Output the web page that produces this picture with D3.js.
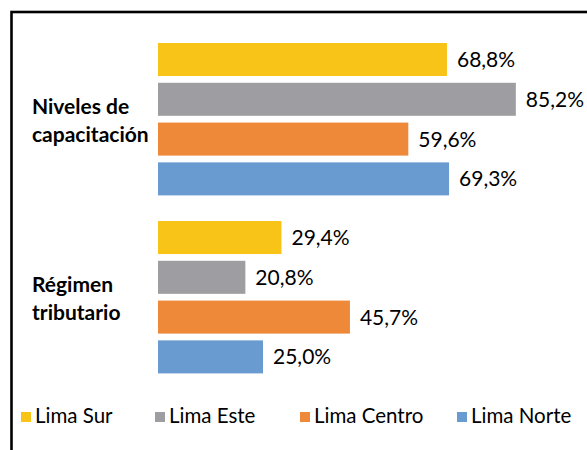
<!DOCTYPE html>
<html>

<head>
    <meta charset="utf-8">
    <title>Niveles de capacitación y régimen tributario</title>
    <script type="text/javascript" src="https://d3js.org/d3.v7.min.js"></script>
    <style>
        body {
            margin: 0;
            background: #fff;
        }
        svg {
            display: block;
            font-family: Lato, "Open Sans", sans-serif;
        }
    </style>
</head>

<body>
</body>

<script type="text/javascript">
    var w = 587;
    var h = 450;

    // categories (each label split in two lines) and series
    var categories = ["Niveles de capacitación", "Régimen tributario"];
    var categoryLines = [["Niveles de", "capacitación"], ["Régimen", "tributario"]];
    var series = ["Lima Sur", "Lima Este", "Lima Centro", "Lima Norte"];
    var colors = ["#f9c418", "#9e9da1", "#ed8938", "#6a9bd0"];

    // values in %, one array per series (order follows categories)
    var limaSur = [68.8, 29.4];
    var limaEste = [85.2, 20.8];
    var limaCentro = [59.6, 45.7];
    var limaNorte = [69.3, 25.0];
    var values = [limaSur, limaEste, limaCentro, limaNorte];

    var svg = d3.select("body").append("svg").attr("width", w).attr("height", h);

    // outer frame (goes off the right and bottom of the picture)
    svg.append("rect")
        .attr("x", 11.5)
        .attr("y", 12)
        .attr("width", 620)
        .attr("height", 500)
        .attr("fill", "none")
        .attr("stroke", "#000")
        .attr("stroke-width", 2.6);

    var xScale = d3.scaleLinear()
        .domain([0, 100])
        .range([158, 578]);

    var yGroup = d3.scaleBand()
        .domain(categories)
        .range([43, 373.4])
        .paddingInner(0.144);

    var ySeries = d3.scaleBand()
        .domain(series)
        .range([0, yGroup.bandwidth()])
        .paddingInner(0.17);

    // flatten into one record per bar
    var bars = [];
    categories.forEach(function(c, ci) {
        series.forEach(function(s, si) {
            bars.push({ cat: c, ser: s, si: si, v: values[si][ci] });
        });
    });

    var g = svg.append("g");

    g.selectAll("rect.bar")
        .data(bars)
        .enter()
        .append("rect")
        .attr("class", "bar")
        .attr("x", xScale(0))
        .attr("y", function(d) {
            return yGroup(d.cat) + ySeries(d.ser);
        })
        .attr("width", function(d) {
            return xScale(d.v) - xScale(0);
        })
        .attr("height", ySeries.bandwidth())
        .attr("fill", function(d) {
            return colors[d.si];
        });

    // value labels, decimal comma
    g.selectAll("text.val")
        .data(bars)
        .enter()
        .append("text")
        .attr("class", "val")
        .attr("x", function(d) {
            return xScale(d.v) + 10;
        })
        .attr("y", function(d) {
            return yGroup(d.cat) + ySeries(d.ser) + ySeries.bandwidth() / 2 + 7.5;
        })
        .attr("font-size", 21)
        .attr("fill", "#000")
        .text(function(d) {
            return d.v.toFixed(1).replace(".", ",") + "%";
        });

    // category labels, bold, two lines
    categories.forEach(function(c, ci) {
        var mid = yGroup(c) + yGroup.bandwidth() / 2;
        var t = svg.append("text")
            .attr("x", 32)
            .attr("y", mid - 5)
            .attr("font-size", 21)
            .attr("font-weight", "bold")
            .attr("fill", "#000");
        categoryLines[ci].forEach(function(line, li) {
            t.append("tspan")
                .attr("x", 32)
                .attr("dy", li === 0 ? 0 : 28)
                .text(line);
        });
    });

    // legend
    var legendX = [21, 155, 300, 457];
    var legend = svg.selectAll("g.legend")
        .data(series)
        .enter()
        .append("g")
        .attr("class", "legend")
        .attr("transform", function(d, i) {
            return "translate(" + legendX[i] + ",412)";
        });

    legend.append("rect")
        .attr("width", 10)
        .attr("height", 10)
        .attr("fill", function(d, i) {
            return colors[i];
        });

    legend.append("text")
        .attr("x", 14)
        .attr("y", 10.5)
        .attr("font-size", 20.5)
        .attr("fill", "#000")
        .text(function(d) {
            return d;
        });
</script>
</html>
